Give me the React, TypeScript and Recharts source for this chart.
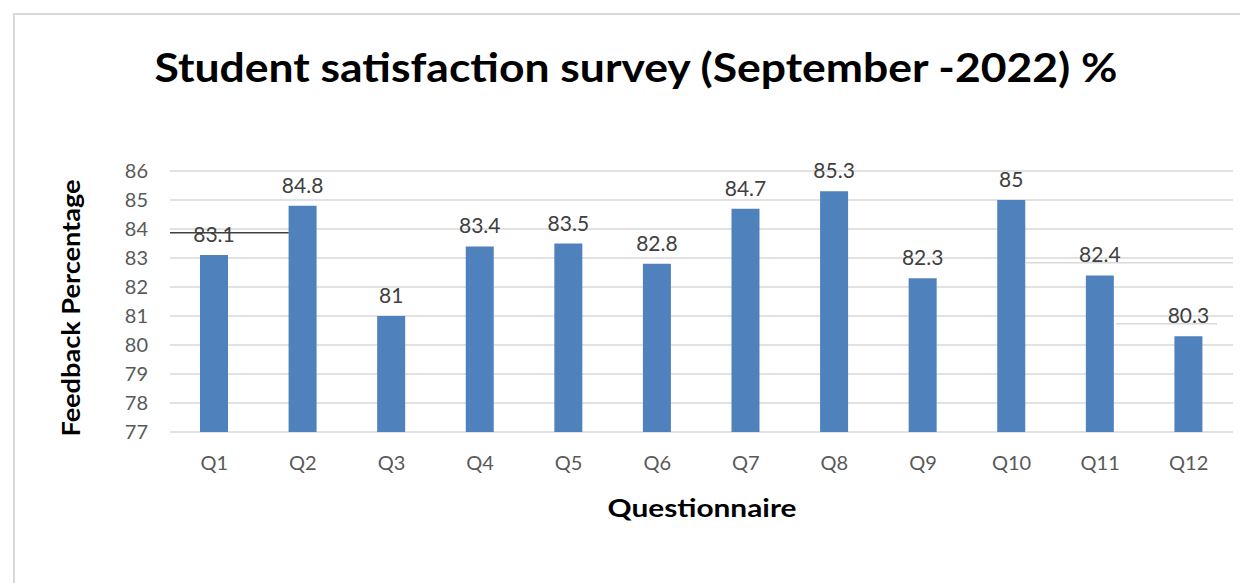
import React from 'react';
import { BarChart, Bar, XAxis, YAxis, CartesianGrid, LabelList, ReferenceLine } from 'recharts';

const questions = ['Q1', 'Q2', 'Q3', 'Q4', 'Q5', 'Q6', 'Q7', 'Q8', 'Q9', 'Q10', 'Q11', 'Q12'];
const feedback = [83.1, 84.8, 81, 83.4, 83.5, 82.8, 84.7, 85.3, 82.3, 85, 82.4, 80.3];
const yTicks = [77, 78, 79, 80, 81, 82, 83, 84, 85, 86];

// stray lines visible on the original picture: start/end in category bands, height in value units
const strayLines = [
  { from: 0, to: 1.34, y: 83.87, color: '#404040' },
  { from: 9.66, to: 12, y: 82.84, color: '#d9d9d9' },
  { from: 10.68, to: 11.82, y: 80.73, color: '#d9d9d9' },
];

const data = questions.map((q, i) => ({ name: q, value: feedback[i] }));

const FONT = 'Lato, "Open Sans", sans-serif';

const partialLine = (from: number, to: number, color: string) => (props: any) => {
  const { x1, x2, y1 } = props;
  const w = x2 - x1;
  const n = questions.length;
  return (
    <line
      x1={x1 + (w * from) / n}
      x2={x1 + (w * to) / n}
      y1={y1}
      y2={y1}
      stroke={color}
      strokeWidth={1.5}
    />
  );
};

const App: React.FC = () => {
  return (
    <div style={{ position: 'relative', width: 1240, height: 575, overflow: 'hidden', fontFamily: FONT }}>
      <div
        style={{
          position: 'absolute',
          left: 5,
          top: 5,
          width: 1300,
          height: 700,
          borderTop: '2px solid #d9d9d9',
          borderLeft: '2px solid #d9d9d9',
        }}
      />
      <BarChart
        width={1240}
        height={575}
        data={data}
        margin={{ top: 163, right: 15, left: 62, bottom: 91 }}
        style={{ position: 'absolute', left: 0, top: 0 }}
      >
        <CartesianGrid vertical={false} stroke="#d9d9d9" strokeWidth={1.5} />
        <XAxis
          dataKey="name"
          axisLine={false}
          tickLine={false}
          tickSize={0}
          tickMargin={24}
          height={60}
          tick={{ fill: '#595959', fontSize: 20, fontFamily: FONT }}
          interval={0}
        />
        <YAxis
          domain={[77, 86]}
          ticks={yTicks}
          width={100}
          axisLine={false}
          tickLine={false}
          tickSize={0}
          tickMargin={22}
          tick={{ fill: '#595959', fontSize: 20, fontFamily: FONT }}
          interval={0}
        />
        {strayLines.map((s, i) => (
          <ReferenceLine key={i} y={s.y} shape={partialLine(s.from, s.to, s.color)} />
        ))}
        <Bar dataKey="value" fill="#4f81bd" barSize={28} isAnimationActive={false}>
          <LabelList
            dataKey="value"
            position="top"
            offset={13}
            style={{ fill: '#404040', fontSize: 21, fontFamily: FONT }}
          />
        </Bar>
      </BarChart>
      <svg width={1240} height={575} style={{ position: 'absolute', left: 0, top: 0, pointerEvents: 'none' }}>
        <text
          x={628}
          y={74}
          textAnchor="middle"
          fontFamily={FONT}
          fontWeight="bold"
          fontSize={40}
          textLength={963}
          lengthAdjust="spacingAndGlyphs"
          fill="#000"
        >
          Student satisfaction survey (September -2022) %
        </text>
        <text
          x={0}
          y={0}
          transform="translate(62,300) rotate(-90)"
          textAnchor="middle"
          dominantBaseline="central"
          fontFamily={FONT}
          fontWeight="bold"
          fontSize={25}
          textLength={257}
          lengthAdjust="spacingAndGlyphs"
          fill="#000"
        >
          Feedback Percentage
        </text>
        <text
          x={694}
          y={509}
          textAnchor="middle"
          fontFamily={FONT}
          fontWeight="bold"
          fontSize={25}
          textLength={189}
          lengthAdjust="spacingAndGlyphs"
          fill="#000"
        >
          Questionnaire
        </text>
      </svg>
    </div>
  );
};

export default App;
